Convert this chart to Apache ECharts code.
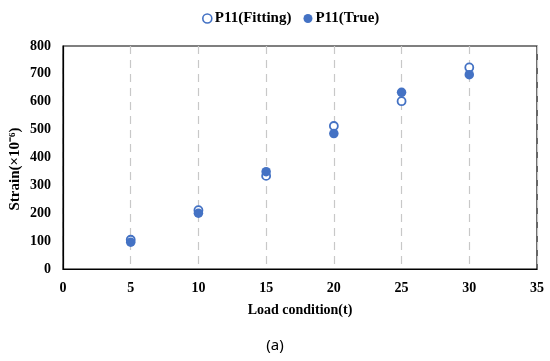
<!DOCTYPE html>
<html><head><meta charset="utf-8">
<script src="https://cdn.jsdelivr.net/npm/echarts@6/dist/echarts.min.js"></script>
<style>html,body{margin:0;padding:0;background:#fff}#c{width:550px;height:361px}</style>
</head><body><div id="c"></div>
<script>
const loads = [5, 10, 15, 20, 25, 30];
const fitting = [105, 211, 334, 513, 602, 723];
const trueVals = [96, 200, 349, 486, 634, 697];
const xTicks = [0, 5, 10, 15, 20, 25, 30, 35];
const yTicks = [0, 100, 200, 300, 400, 500, 600, 700, 800];

const blue = '#4472C4';
const font = '"Liberation Serif", "Times New Roman", serif';
const chart = echarts.init(document.getElementById('c'));
chart.setOption({
  animation: false,
  backgroundColor: '#fff',
  textStyle: { fontFamily: font },
  legend: {
    top: 6, left: 197, itemGap: 12, itemWidth: 9, itemHeight: 9,
    textStyle: { fontFamily: font, fontWeight: 'bold', fontSize: 15, color: '#000', padding: [0, 0, 0, -2] },
    data: [
      { name: 'P11(Fitting)', icon: 'circle', itemStyle: { color: '#fff', borderColor: blue, borderWidth: 1.6 } },
      { name: 'P11(True)', icon: 'circle', itemStyle: { color: blue } }
    ]
  },
  grid: { left: 63, right: 13, top: 46, bottom: 92, show: true, borderColor: '#000', borderWidth: 1.2, outerBoundsMode: 'none', containLabel: false },
  xAxis: {
    type: 'value', min: xTicks[0], max: xTicks[xTicks.length - 1], interval: 5,
    name: 'Load condition(t)', nameLocation: 'middle', nameGap: 34, nameMoveOverlap: false,
    nameTextStyle: { fontFamily: font, fontWeight: 'bold', fontSize: 14, color: '#000' },
    axisLine: { lineStyle: { color: '#000', width: 1.2 } },
    axisTick: { show: false },
    axisLabel: { fontFamily: font, fontWeight: 'bold', fontSize: 14, color: '#000', margin: 12 },
    splitLine: { show: true, lineStyle: { color: '#c8c8c8', type: [8, 6], width: 1.2 } }
  },
  yAxis: {
    type: 'value', min: yTicks[0], max: yTicks[yTicks.length - 1], interval: 100,
    name: 'Strain(×10⁻⁶)', nameLocation: 'middle', nameGap: 40, nameRotate: 90, nameMoveOverlap: false,
    nameTextStyle: { fontFamily: font, fontWeight: 'bold', fontSize: 15, color: '#000', padding: [0, 23, 0, 0] },
    axisLine: { show: true, lineStyle: { color: '#000', width: 1.2 } },
    axisTick: { show: false },
    axisLabel: { fontFamily: font, fontWeight: 'bold', fontSize: 14, color: '#000', margin: 12 },
    splitLine: { show: false }
  },
  series: [
    {
      name: 'P11(Fitting)', type: 'scatter', symbol: 'circle', symbolSize: 8, z: 2,
      itemStyle: { color: '#fff', borderColor: blue, borderWidth: 1.8, opacity: 1 },
      data: loads.map((x, i) => [x, fitting[i]])
    },
    {
      name: 'P11(True)', type: 'scatter', symbol: 'circle', symbolSize: 9.5, z: 3,
      itemStyle: { color: blue, opacity: 1 },
      data: loads.map((x, i) => [x, trueVals[i]])
    }
  ],
  graphic: [{
    type: 'text', left: 'center', top: 338,
    style: { text: '(a)', fontFamily: '"Noto Sans", sans-serif', fontSize: 15, fill: '#000' }
  }]
});
</script></body></html>
